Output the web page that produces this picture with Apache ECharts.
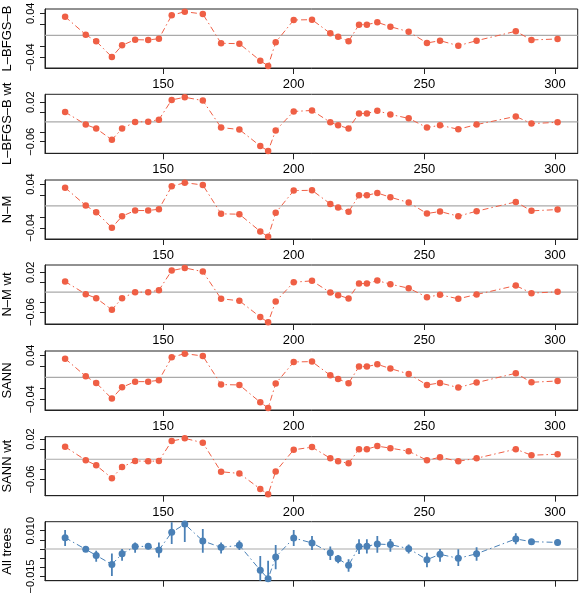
<!DOCTYPE html>
<html><head><meta charset="utf-8">
<script src="https://cdn.jsdelivr.net/npm/echarts@6/dist/echarts.min.js"></script>
<style>html,body{margin:0;padding:0;background:#fff}#c{width:579px;height:594px}</style>
</head><body><div id="c"></div>
<script>
// ---- data ----
const positions = [112.5,120.4,124.4,130.4,134.3,139.3,144.3,148.4,153.3,158.3,165.2,172.2,179.2,187.2,190.2,193.1,200,207,214,217,221,225,228,232,237,244,251,256,263,270,285,291,301];
const lbfgsb = [0.0338,0.0010,-0.0109,-0.0395,-0.0182,-0.0080,-0.0085,-0.0062,0.0364,0.0429,0.0387,-0.0145,-0.0153,-0.0462,-0.0558,-0.0127,0.0278,0.0284,0.0036,-0.0025,-0.0109,0.0193,0.0193,0.0236,0.0156,0.0065,-0.0140,-0.0098,-0.0189,-0.0098,0.0073,-0.0085,-0.0067];
const lbfgsbWt = [0.0000,-0.0253,-0.0333,-0.0560,-0.0333,-0.0200,-0.0193,-0.0153,0.0247,0.0300,0.0233,-0.0313,-0.0353,-0.0687,-0.0787,-0.0373,0.0013,0.0033,-0.0207,-0.0267,-0.0333,-0.0027,-0.0027,0.0027,-0.0047,-0.0127,-0.0313,-0.0267,-0.0347,-0.0253,-0.0087,-0.0233,-0.0207];
const nm = [0.0333,0.0006,-0.0115,-0.0400,-0.0188,-0.0085,-0.0085,-0.0061,0.0358,0.0424,0.0382,-0.0145,-0.0152,-0.0467,-0.0564,-0.0127,0.0279,0.0285,0.0036,-0.0030,-0.0109,0.0194,0.0194,0.0236,0.0158,0.0061,-0.0139,-0.0103,-0.0188,-0.0097,0.0073,-0.0091,-0.0067];
const nmWt = [0.0013,-0.0240,-0.0320,-0.0553,-0.0320,-0.0200,-0.0200,-0.0160,0.0233,0.0287,0.0213,-0.0333,-0.0373,-0.0700,-0.0807,-0.0387,0.0000,0.0027,-0.0207,-0.0260,-0.0327,-0.0027,-0.0027,0.0033,-0.0040,-0.0120,-0.0300,-0.0253,-0.0333,-0.0247,-0.0067,-0.0220,-0.0193];
const sann = [0.0339,0.0018,-0.0103,-0.0388,-0.0182,-0.0079,-0.0079,-0.0055,0.0364,0.0430,0.0388,-0.0133,-0.0139,-0.0455,-0.0558,-0.0115,0.0279,0.0285,0.0036,-0.0030,-0.0109,0.0194,0.0194,0.0236,0.0158,0.0061,-0.0139,-0.0103,-0.0188,-0.0097,0.0073,-0.0091,-0.0067];
const sannWt = [0.0047,-0.0220,-0.0320,-0.0573,-0.0353,-0.0233,-0.0240,-0.0233,0.0160,0.0213,0.0127,-0.0447,-0.0480,-0.0787,-0.0893,-0.0440,-0.0013,0.0040,-0.0180,-0.0240,-0.0280,0.0000,0.0000,0.0060,0.0020,-0.0040,-0.0220,-0.0160,-0.0240,-0.0180,0.0000,-0.0120,-0.0100];
const allTrees = [0.0062,-0.0002,-0.0035,-0.0084,-0.0026,0.0013,0.0015,-0.0006,0.0091,0.0136,0.0044,0.0009,0.0020,-0.0116,-0.0162,-0.0044,0.0060,0.0033,-0.0020,-0.0053,-0.0089,0.0013,0.0015,0.0027,0.0024,0.0002,-0.0058,-0.0029,-0.0051,-0.0026,0.0055,0.0040,0.0036];
const allLow = [0.0016,-0.0016,-0.0069,-0.0147,-0.0064,-0.0020,-0.0002,-0.0047,0.0027,0.0038,-0.0020,-0.0024,-0.0006,-0.0178,-0.0224,-0.0111,0.0016,-0.0006,-0.0060,-0.0078,-0.0124,-0.0027,-0.0024,-0.0020,-0.0015,-0.0024,-0.0100,-0.0069,-0.0093,-0.0064,0.0026,0.0026,0.0018];
const allHigh = [0.0104,0.0013,-0.0009,-0.0024,0.0000,0.0036,0.0031,0.0036,0.0146,0.0158,0.0109,0.0035,0.0046,-0.0038,-0.0064,0.0022,0.0104,0.0071,0.0013,-0.0033,-0.0056,0.0053,0.0053,0.0071,0.0055,0.0024,-0.0020,0.0000,-0.0002,0.0009,0.0086,0.0055,0.0053];
const panelNames = ['L\u2013BFGS\u2013B','L\u2013BFGS\u2013B wt','N\u2013M','N\u2013M wt','SANN','SANN wt','All trees'];
const panelSeries = [lbfgsb, lbfgsbWt, nm, nmWt, sann, sannWt, allTrees];
const refLines = [0, -0.02, 0, -0.02, 0, -0.02, 0];
const yMins = [-0.0595, -0.0834, -0.0605, -0.084, -0.0595, -0.092, -0.0173];
const yMaxs = [0.0478, 0.036, 0.0473, 0.0346, 0.0478, 0.0246, 0.0149];
const yTicks = [
  [-0.04,-0.02,0,0.02,0.04],[-0.06,-0.04,-0.02,0,0.02],[-0.04,-0.02,0,0.02,0.04],
  [-0.06,-0.04,-0.02,0,0.02],[-0.04,-0.02,0,0.02,0.04],[-0.06,-0.04,-0.02,0,0.02],
  [-0.015,-0.01,-0.005,0,0.005,0.01]];
const yLabels = [
  [-0.04,0,0.04],[-0.06,-0.02,0.02],[-0.04,0,0.04],
  [-0.06,-0.02,0.02],[-0.04,0,0.04],[-0.06,-0.02,0.02],
  [-0.015,0.01]];
const yDigits = [2,2,2,2,2,2,3];
const xTicks = [150,200,250,300];
const xMin = 104.8, xMax = 308.7;

// ---- chart ----
const RED = '#EF5F45', BLUE = '#4A80B6', GREY = '#AAAAAA', INK = '#222222';
const FONT = 'Liberation Sans, Arial, Helvetica, sans-serif';
const chart = echarts.init(document.getElementById('c'), null, {renderer: 'canvas'});
const grids = [], xAxes = [], yAxes = [], series = [];
const tops = [9, 94.3, 180, 265, 351, 436.7, 521.7];
for (let i = 0; i < 7; i++) {
  grids.push({left: 45, top: tops[i], width: 532.7, height: 59, show: true,
    borderColor: INK, borderWidth: 1, backgroundColor: 'transparent',
    containLabel: false, outerBoundsMode: 'none'});
  xAxes.push({type: 'value', gridIndex: i, min: xMin, max: xMax, position: 'bottom',
    axisLine: {show: true, onZero: false, lineStyle: {color: INK, width: 1}}, splitLine: {show: false},
    axisTick: {show: true, length: 6, inside: false, customValues: xTicks, lineStyle: {color: INK, width: 1}},
    axisLabel: {show: i < 6, customValues: xTicks, margin: 10, color: '#000', fontSize: 13, fontFamily: FONT,
      showMinLabel: true, showMaxLabel: true}});
  const d = yDigits[i];
  yAxes.push({type: 'value', gridIndex: i, min: yMins[i], max: yMaxs[i], position: 'left',
    name: panelNames[i], nameLocation: 'middle', nameRotate: 90, nameGap: 31,
    nameTextStyle: {color: '#000', fontSize: 13, fontFamily: FONT},
    axisLine: {show: true, onZero: false, lineStyle: {color: INK, width: 1}}, splitLine: {show: false},
    axisTick: {show: true, length: 5, inside: false, customValues: yTicks[i], lineStyle: {color: INK, width: 1}},
    axisLabel: {show: true, customValues: yLabels[i], rotate: 90, margin: 9,
      showMinLabel: true, showMaxLabel: true, hideOverlap: false, color: '#000', fontSize: 11, fontFamily: FONT,
      formatter: v => Number(v).toFixed(d).replace('-', '\u2212')}});
  series.push({type: 'line', xAxisIndex: i, yAxisIndex: i, silent: true, symbol: 'none', z: 1,
    data: [[xMin, refLines[i]], [xMax, refLines[i]]], lineStyle: {color: GREY, width: 1.2}});
  const col = i < 6 ? RED : BLUE;
  if (i === 6) {
    series.push({type: 'custom', xAxisIndex: i, yAxisIndex: i, z: 2, silent: true,
      data: positions.map((p, j) => [p, allLow[j], allHigh[j]]),
      renderItem: (params, api) => {
        const a = api.coord([api.value(0), api.value(1)]);
        const b = api.coord([api.value(0), api.value(2)]);
        return {type: 'line', shape: {x1: a[0], y1: a[1], x2: b[0], y2: b[1]},
          style: {stroke: BLUE, lineWidth: 1.8}};
      }, clip: true});
  }
  series.push({type: 'line', xAxisIndex: i, yAxisIndex: i, z: 3, silent: true,
    data: positions.map((p, j) => [p, panelSeries[i][j]]),
    symbol: 'circle', symbolSize: i < 6 ? 6.5 : 7, showSymbol: true,
    itemStyle: {color: col, borderWidth: 0},
    lineStyle: {color: col, width: 1, type: [6, 3, 1.5, 3]}, clip: true});
}
chart.setOption({animation: false, grid: grids, xAxis: xAxes, yAxis: yAxes, series: series});
</script></body></html>
